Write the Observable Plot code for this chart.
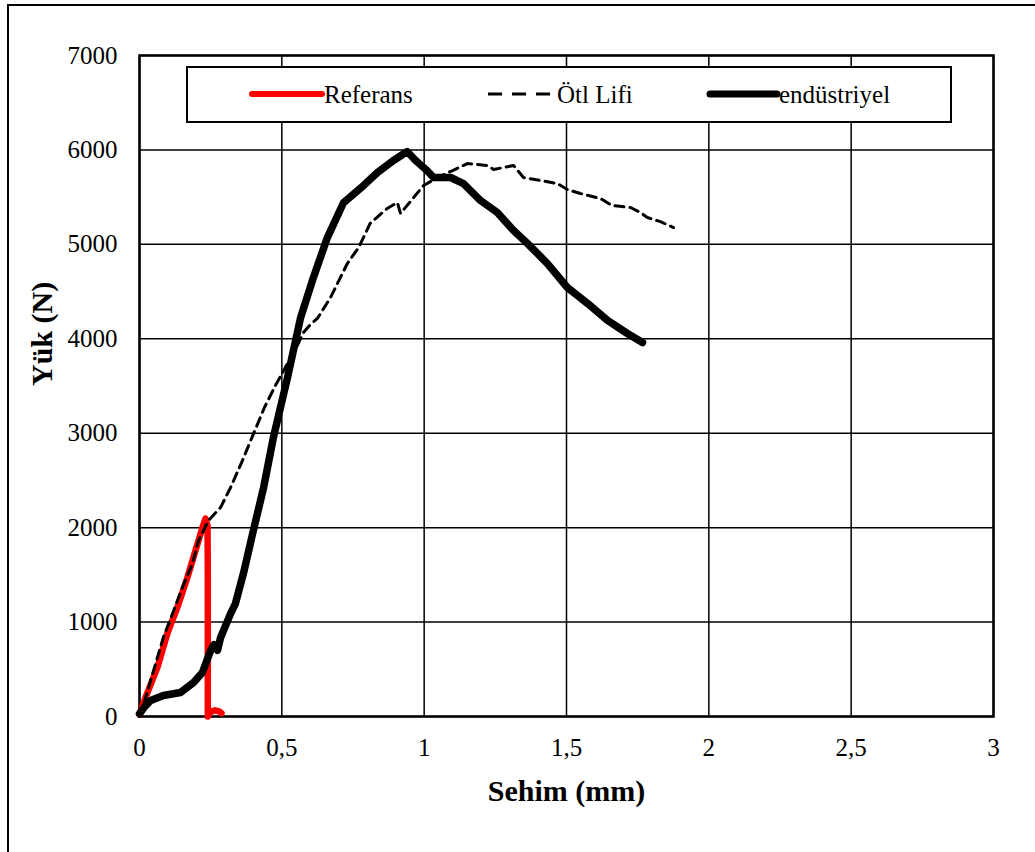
<!DOCTYPE html>
<html>
<head>
<meta charset="utf-8">
<script src="https://cdn.jsdelivr.net/npm/d3@7"></script>
<script src="https://cdn.jsdelivr.net/npm/@observablehq/plot@0.6"></script>
<style>
  html, body { margin: 0; padding: 0; background: #fff; }
  #wrap { position: relative; width: 1035px; height: 852px; overflow: hidden; font-family: "Liberation Serif", "Times New Roman", serif; }
  #border { position: absolute; left: 7px; top: 4px; width: 1100px; height: 900px; border-left: 2px solid #000; border-top: 2px solid #000; }
  #legend { position: absolute; left: 186px; top: 66px; width: 766px; height: 57px; box-sizing: border-box; border: 2px solid #000; background: #fff; }
  #chart { position: absolute; left: 0; top: 0; }
</style>
</head>
<body>
<div id="wrap">
  <div id="border"></div>
  <div id="chart"></div>
  <div id="legend"></div>
</div>
<script>
// Series: Referans
const refX = [0, 0.021, 0.063, 0.098, 0.133, 0.168, 0.197, 0.221, 0.232, 0.239, 0.240, 0.240, 0.240, 0.250, 0.265, 0.280, 0.288];
const refY = [20, 200, 520, 880, 1155, 1470, 1760, 2000, 2095, 2020, 1500, 600, 0, 50, 65, 55, 35];

// Series: Ötl Lifi
const otlX = [0, 0.02, 0.039, 0.084, 0.12, 0.151, 0.186, 0.207, 0.242, 0.285, 0.32, 0.36, 0.40, 0.44, 0.48, 0.52, 0.55, 0.576, 0.60, 0.625, 0.671, 0.73, 0.77, 0.81, 0.87, 0.906, 0.917, 0.963, 0.998, 1.047, 1.10, 1.152, 1.222, 1.244, 1.314, 1.349, 1.409, 1.468, 1.503, 1.549, 1.62, 1.66, 1.725, 1.76, 1.784, 1.83, 1.876];
const otlY = [0, 180, 380, 840, 1120, 1370, 1620, 1860, 2075, 2215, 2425, 2700, 2990, 3280, 3520, 3738, 3900, 4066, 4150, 4215, 4437, 4797, 4967, 5221, 5380, 5443, 5327, 5496, 5623, 5708, 5782, 5856, 5835, 5793, 5835, 5708, 5676, 5644, 5581, 5538, 5485, 5411, 5390, 5337, 5284, 5240, 5178];

// Series: endüstriyel
const endX = [0, 0.02, 0.039, 0.084, 0.144, 0.19, 0.221, 0.25, 0.262, 0.274, 0.285, 0.32, 0.337, 0.365, 0.40, 0.436, 0.47, 0.52, 0.566, 0.611, 0.66, 0.717, 0.787, 0.836, 0.892, 0.94, 0.97, 1.01, 1.033, 1.093, 1.138, 1.198, 1.257, 1.314, 1.363, 1.433, 1.503, 1.574, 1.644, 1.714, 1.767];
const endY = [30, 110, 170, 222, 254, 360, 466, 700, 760, 700, 837, 1090, 1196, 1514, 1970, 2425, 2950, 3590, 4225, 4650, 5072, 5443, 5623, 5761, 5888, 5983, 5888, 5782, 5708, 5708, 5644, 5464, 5337, 5147, 5009, 4797, 4543, 4374, 4194, 4056, 3960];

// Axis ticks and labels
const xTicks = [0, 0.5, 1, 1.5, 2, 2.5, 3];
const yTicks = [0, 1000, 2000, 3000, 4000, 5000, 6000, 7000];
const xTitle = "Sehim (mm)";
const yTitle = "Yük (N)";
const seriesNames = ["Referans", "Ötl Lifi", "endüstriyel"];

const ref = refX.map((x, i) => ({x, y: refY[i]}));
const otl = otlX.map((x, i) => ({x, y: otlY[i]}));
const end = endX.map((x, i) => ({x, y: endY[i]}));

const fmtX = d => String(d).replace(".", ",");
const fmtY = d => String(d);

const chart = Plot.plot({
  width: 1035,
  height: 852,
  marginLeft: 139,
  marginRight: 42,
  marginTop: 55,
  marginBottom: 136,
  style: { fontFamily: "'Liberation Serif', 'Times New Roman', serif", fontSize: "25px", color: "#000", background: "transparent" },
  x: { domain: [0, 3], ticks: xTicks },
  y: { domain: [0, 7000], ticks: yTicks },
  marks: [
    Plot.gridX(xTicks, { stroke: "#000", strokeOpacity: 1, strokeWidth: 1.5 }),
    Plot.gridY(yTicks, { stroke: "#000", strokeOpacity: 1, strokeWidth: 1.5 }),
    Plot.axisX(xTicks, { tickSize: 0, tickPadding: 22, tickFormat: fmtX, label: null, fontSize: 25 }),
    Plot.axisY(yTicks, { tickSize: 0, tickPadding: 22, tickFormat: fmtY, label: null, fontSize: 25 }),
    Plot.frame({ stroke: "#000", strokeWidth: 2.5 }),
    Plot.line(ref, { x: "x", y: "y", stroke: "#ff0000", strokeWidth: 6.5, strokeLinejoin: "round", strokeLinecap: "round" }),
    Plot.line(otl, { x: "x", y: "y", stroke: "#000", strokeWidth: 3, strokeDasharray: "9,6", strokeLinejoin: "round" }),
    Plot.line(end, { x: "x", y: "y", stroke: "#000", strokeWidth: 7.5, strokeLinejoin: "round", strokeLinecap: "round" }),
    Plot.text([xTitle], { frameAnchor: "bottom", dy: 84, fontSize: 30, fontWeight: "bold", fill: "#000" }),
    Plot.text([yTitle], { frameAnchor: "left", dx: -97, rotate: -90, fontSize: 30, fontWeight: "bold", fill: "#000" })
  ]
});
document.getElementById("chart").appendChild(chart);

// Legend
const legendItems = [
  { name: seriesNames[0], color: "#ff0000", width: 6, dash: null, x0: 64, x1: 134, tx: 136 },
  { name: seriesNames[1], color: "#000", width: 3, dash: "14,10", x0: 300, x1: 368, tx: 369 },
  { name: seriesNames[2], color: "#000", width: 7, dash: null, x0: 522, x1: 589, tx: 591 }
];
const ns = "http://www.w3.org/2000/svg";
const lsvg = document.createElementNS(ns, "svg");
lsvg.setAttribute("width", 762);
lsvg.setAttribute("height", 53);
lsvg.style.position = "absolute";
lsvg.style.left = "0px";
lsvg.style.top = "0px";
legendItems.forEach(it => {
  const l = document.createElementNS(ns, "line");
  l.setAttribute("x1", it.x0); l.setAttribute("x2", it.x1);
  l.setAttribute("y1", 26); l.setAttribute("y2", 26);
  l.setAttribute("stroke", it.color);
  l.setAttribute("stroke-width", it.width);
  if (it.dash) { l.setAttribute("stroke-dasharray", it.dash); l.setAttribute("stroke-linecap", "butt"); }
  else l.setAttribute("stroke-linecap", "round");
  lsvg.appendChild(l);
  const t = document.createElementNS(ns, "text");
  t.setAttribute("x", it.tx); t.setAttribute("y", 26);
  t.setAttribute("dominant-baseline", "central");
  t.setAttribute("font-family", "'Liberation Serif', 'Times New Roman', serif");
  t.setAttribute("font-size", "25");
  t.setAttribute("fill", "#000");
  t.textContent = it.name;
  lsvg.appendChild(t);
});
document.getElementById("legend").appendChild(lsvg);
</script>
</body>
</html>
